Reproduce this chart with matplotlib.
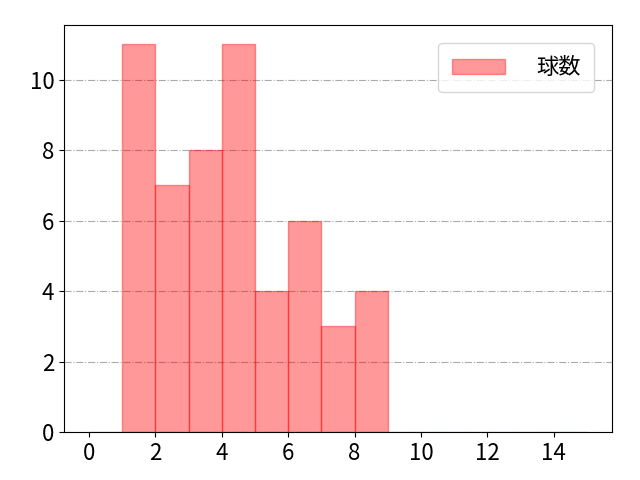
import matplotlib
matplotlib.use("Agg")
import matplotlib.pyplot as plt

plt.rcParams['font.family'] = ['Noto Sans CJK JP', 'DejaVu Sans']

bin_left = list(range(0, 15))
counts = [0, 11, 7, 8, 11, 4, 6, 3, 4, 0, 0, 0, 0, 0, 0]
x_ticks = [0, 2, 4, 6, 8, 10, 12, 14]

fig, ax = plt.subplots(figsize=(6.4, 4.8), dpi=100)
ax.bar(bin_left, counts, width=1, align='edge', color='red', alpha=0.4,
       edgecolor='red', linewidth=1, label='球数')
ax.grid(axis='y', linestyle='-.', color='#aaaaaa', linewidth=0.8)
ax.set_axisbelow(True)
ax.set_xticks(x_ticks)
ax.tick_params(labelsize=16)
ax.legend(loc='upper right', fontsize=16, handlelength=2.4, handletextpad=1.4,
          borderpad=0.6, borderaxespad=0.8)
fig.subplots_adjust(left=0.1, right=0.956, top=0.948, bottom=0.1)
fig.savefig("out.png")
